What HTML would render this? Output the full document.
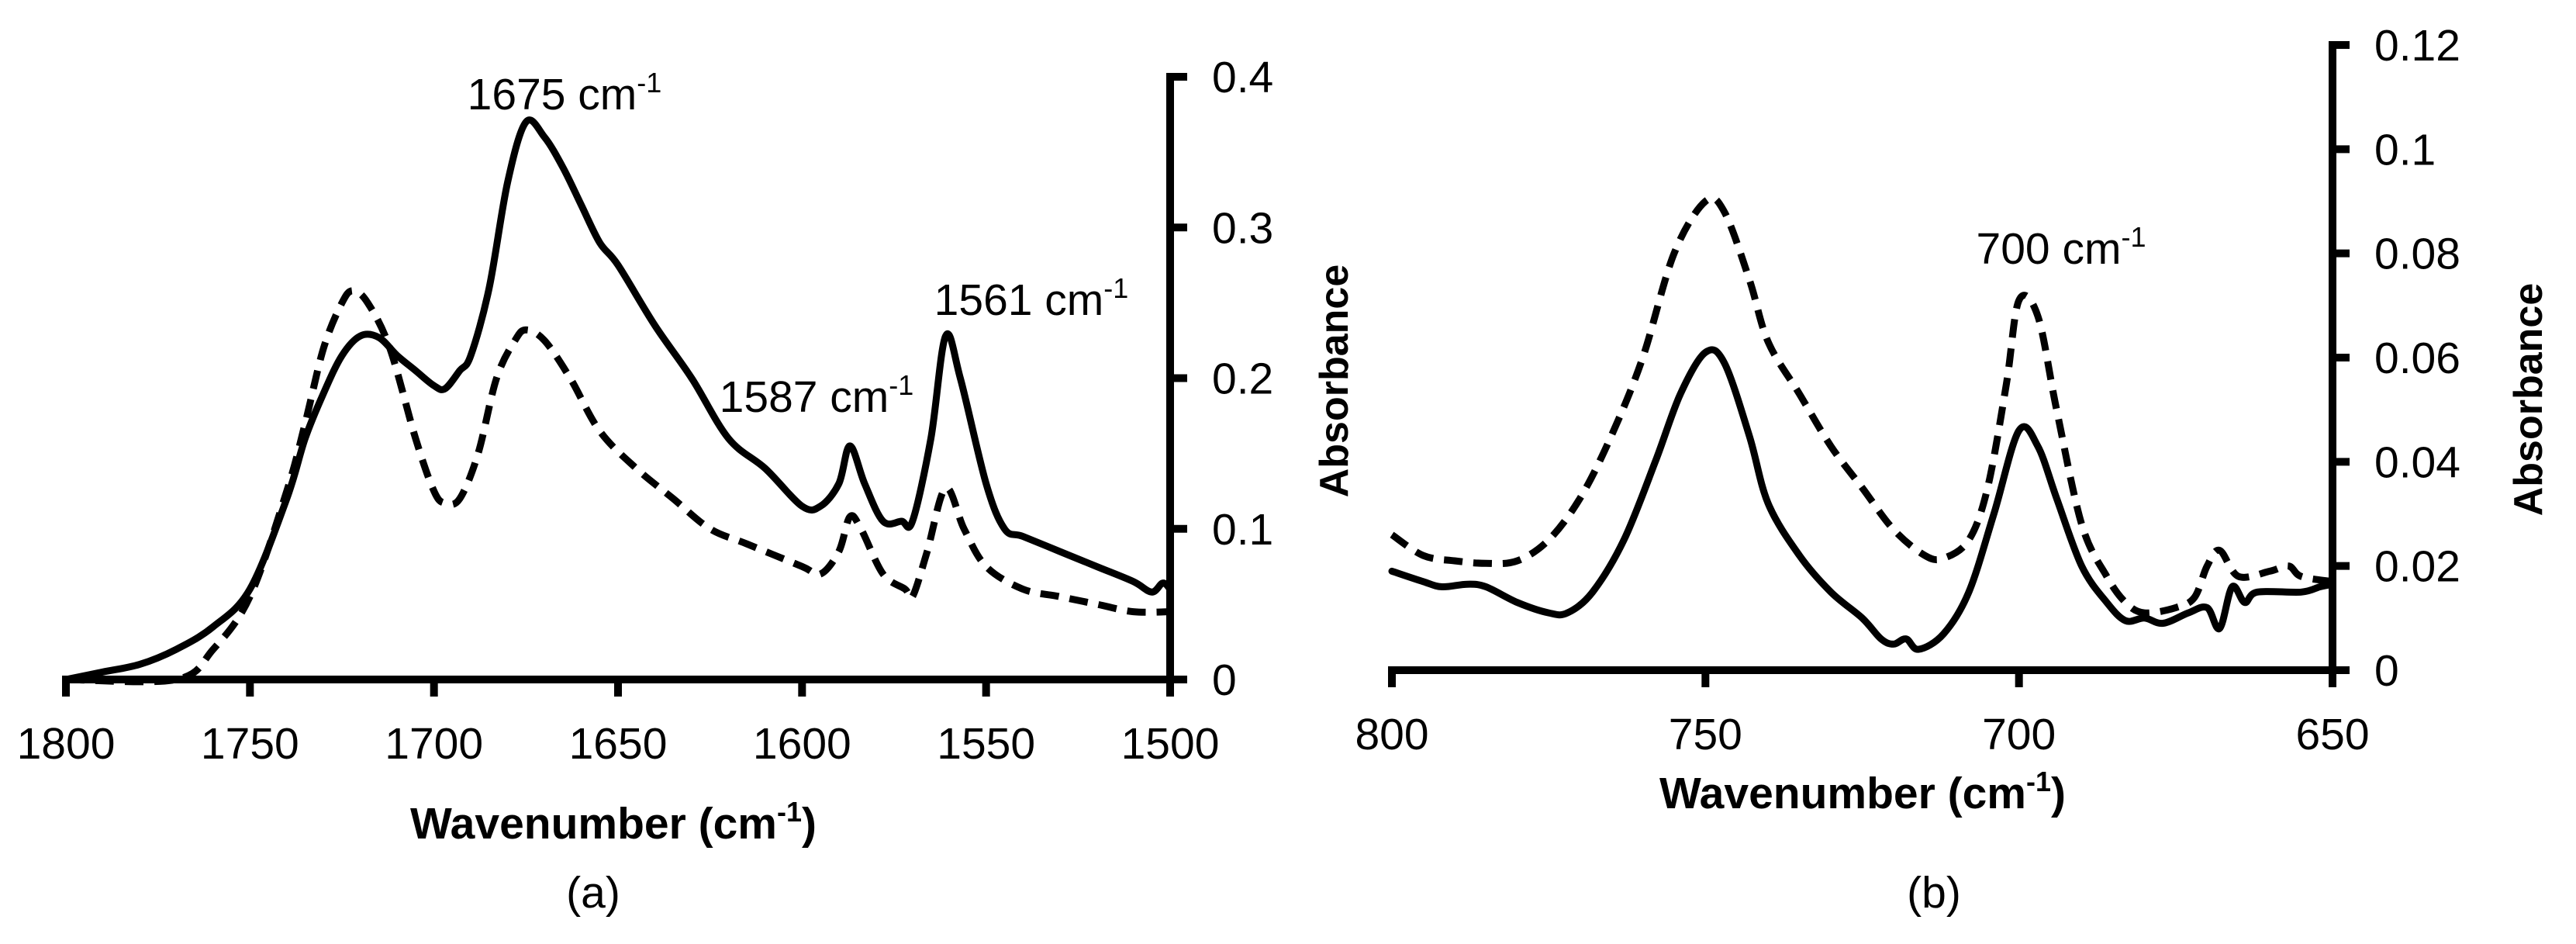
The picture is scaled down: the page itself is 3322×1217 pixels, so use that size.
<!DOCTYPE html>
<html><head><meta charset="utf-8">
<style>
html,body{margin:0;padding:0;background:#fff;}
svg{display:block;}
text{font-family:"Liberation Sans",sans-serif;fill:#000;}
</style></head>
<body>
<svg id="chart" width="3322" height="1217" viewBox="0 0 3322 1217" xmlns="http://www.w3.org/2000/svg">
<g id="pa"></g>
<g id="pb"></g>
</svg>
<script>
// Panel (a) data
const aWaveSolid = [1800,1790,1780,1770,1760,1750,1740,1735,1730,1725,1720,1715,1710,1705,1700,1697,1693,1690,1685,1680,1675,1670,1665,1660,1655,1650,1640,1630,1620,1610,1600,1595,1590,1587,1583,1578,1573,1570,1565,1561,1557,1550,1545,1540,1530,1520,1510,1505,1502,1500];
const aSolid = [0,0.005,0.01,0.02,0.035,0.06,0.12,0.16,0.19,0.215,0.228,0.227,0.215,0.205,0.195,0.193,0.205,0.215,0.26,0.33,0.37,0.36,0.34,0.315,0.29,0.275,0.235,0.2,0.16,0.14,0.115,0.115,0.13,0.155,0.13,0.105,0.105,0.105,0.16,0.228,0.2,0.13,0.1,0.095,0.085,0.075,0.065,0.058,0.064,0.06];
const aWaveDash = [1800,1770,1760,1750,1740,1735,1730,1725,1722,1718,1712,1705,1700,1697,1693,1688,1683,1678,1675,1670,1663,1655,1645,1635,1625,1615,1600,1595,1590,1587,1584,1578,1572,1570,1566,1561,1556,1550,1540,1530,1520,1510,1500];
const aDash = [0,0,0.02,0.055,0.125,0.17,0.22,0.25,0.258,0.25,0.22,0.16,0.125,0.117,0.12,0.15,0.2,0.225,0.232,0.225,0.2,0.165,0.14,0.12,0.1,0.09,0.075,0.07,0.085,0.108,0.1,0.07,0.06,0.055,0.085,0.127,0.1,0.075,0.06,0.055,0.05,0.045,0.045];
const aXTicks = [1800,1750,1700,1650,1600,1550,1500];
const aYTicks = [0,0.1,0.2,0.3,0.4];
// Panel (b) data
const bWaveDash = [800,795,790,785,780,775,770,765,760,755,750,747,743,740,735,730,725,720,715,712,708,705,702,700,697,694,690,686,683,680,675,672,670,668,665,660,657,655,650];
const bDash = [0.026,0.022,0.021,0.0205,0.021,0.025,0.033,0.045,0.06,0.08,0.09,0.088,0.075,0.063,0.053,0.043,0.035,0.027,0.022,0.0215,0.025,0.035,0.055,0.071,0.068,0.05,0.028,0.018,0.013,0.011,0.012,0.014,0.02,0.023,0.018,0.019,0.02,0.018,0.017];
const bWaveSolid = [800,795,792,788,785,780,775,772,768,763,758,754,750,747,743,740,735,730,725,722,720,718,716,712,708,704,700,697,694,690,686,683,680,677,673,670,668,666,664,662,655,652,650];
const bSolid = [0.019,0.017,0.016,0.0165,0.016,0.013,0.011,0.011,0.015,0.025,0.04,0.053,0.061,0.059,0.045,0.032,0.022,0.015,0.01,0.006,0.005,0.006,0.004,0.007,0.015,0.03,0.046,0.043,0.033,0.02,0.013,0.0095,0.01,0.009,0.011,0.012,0.008,0.016,0.013,0.015,0.015,0.016,0.0165];
const bXTicks = [800,750,700,650];
const bYTicks = [0,0.02,0.04,0.06,0.08,0.1,0.12];
const bYLabels = ["0","0.02","0.04","0.06","0.08","0.1","0.12"];

const NS = "http://www.w3.org/2000/svg";
function mk(parent, tag, attrs){ const e=document.createElementNS(NS,tag); for(const k in attrs) e.setAttribute(k,attrs[k]); parent.appendChild(e); return e; }
function scaleLin(d0,d1,r0,r1){ return v => r0 + (v-d0)/(d1-d0)*(r1-r0); }

const ax = scaleLin(1800,1500,85,1509);
const ay = scaleLin(0,0.4,876,99);
const bx = scaleLin(800,650,1795,3008);
const by = scaleLin(0,0.12,864,58);

function pathFrom(xs, ys, sx, sy){
  const p = xs.map((w,i)=>[sx(w), sy(ys[i])]);
  let d = 'M'+p[0][0].toFixed(1)+','+p[0][1].toFixed(1);
  for(let i=0;i<p.length-1;i++){
    const p0=p[Math.max(0,i-1)], p1=p[i], p2=p[i+1], p3=p[Math.min(p.length-1,i+2)];
    const c1x=p1[0]+(p2[0]-p0[0])/6, c1y=p1[1]+(p2[1]-p0[1])/6;
    const c2x=p2[0]-(p3[0]-p1[0])/6, c2y=p2[1]-(p3[1]-p1[1])/6;
    d+=' C'+c1x.toFixed(1)+','+c1y.toFixed(1)+' '+c2x.toFixed(1)+','+c2y.toFixed(1)+' '+p2[0].toFixed(1)+','+p2[1].toFixed(1);
  }
  return d;
}

function drawPanel(g, sx, sy, xt, yt, ylab, x0, yAxisX, xAxisY, yTop, series){
  series.forEach(s=>{
    const p = mk(g,'path',{d:pathFrom(s.x,s.y,sx,sy),fill:'none',stroke:'#000','stroke-width':9,'stroke-linejoin':'round','stroke-linecap':s.dash?'butt':'round'});
    if(s.dash) p.setAttribute('stroke-dasharray',s.dash);
    
    
  });
  const xa = mk(g,'line',{x1:sx(x0)-5,y1:xAxisY,x2:yAxisX,y2:xAxisY,stroke:'#000','stroke-width':10});
  
  
  const ya = mk(g,'line',{x1:yAxisX,y1:yTop-5,x2:yAxisX,y2:xAxisY+22,stroke:'#000','stroke-width':10});
  
  
  xt.forEach(v=>{
    const t = mk(g,'line',{x1:sx(v),y1:xAxisY,x2:sx(v),y2:xAxisY+22,stroke:'#000','stroke-width':10});
    
    
    const l = mk(g,'text',{x:sx(v),y:xAxisY+102,'font-size':57,'text-anchor':'middle'});
    l.textContent = v;
    
    
  });
  yt.forEach((v,i)=>{
    const t = mk(g,'line',{x1:yAxisX,y1:sy(v),x2:yAxisX+22,y2:sy(v),stroke:'#000','stroke-width':10});
    
    
    const l = mk(g,'text',{x:yAxisX+54,y:sy(v)+20,'font-size':57});
    l.textContent = ylab ? ylab[i] : String(v);
    
    
  });
}

const pa = document.getElementById('pa');
drawPanel(pa, ax, ay, aXTicks, aYTicks, null, 1800, 1509, 876, 99, [
  {x:aWaveDash,y:aDash,dash:'24 14',name:'series-dashed-a'},
  {x:aWaveSolid,y:aSolid,dash:null,name:'series-solid-a'}
]);
const pb = document.getElementById('pb');
drawPanel(pb, bx, by, bXTicks, bYTicks, bYLabels, 800, 3008, 864, 58, [
  {x:bWaveDash,y:bDash,dash:'24 14',name:'series-dashed-b'},
  {x:bWaveSolid,y:bSolid,dash:null,name:'series-solid-b'}
]);

const svg = document.getElementById('chart');
function txt(x,y,html,attrs,name){
  const t=document.createElementNS(NS,'text');
  t.setAttribute('x',x); t.setAttribute('y',y);
  for(const k in attrs) t.setAttribute(k,attrs[k]);
  t.innerHTML = html;
  
  
  svg.appendChild(t);
  return t;
}
const sup = '<tspan font-size="36" dy="-22">-1</tspan>';
txt(728,141,'1675 cm'+sup,{'font-size':57,'text-anchor':'middle'},'peak-label-1675');
txt(1330,406,'1561 cm'+sup,{'font-size':57,'text-anchor':'middle'},'peak-label-1561');
txt(1053,531,'1587 cm'+sup,{'font-size':57,'text-anchor':'middle'},'peak-label-1587');
txt(2658,340,'700 cm'+sup,{'font-size':57,'text-anchor':'middle'},'peak-label-700');
txt(791,1081,'Wavenumber (cm'+sup+'<tspan dy="22">)</tspan>',{'font-size':57,'font-weight':'bold','text-anchor':'middle'},'x-axis-title-a');
txt(2402,1042,'Wavenumber (cm'+sup+'<tspan dy="22">)</tspan>',{'font-size':57,'font-weight':'bold','text-anchor':'middle'},'x-axis-title-b');
txt(765,1170,'(a)',{'font-size':57,'text-anchor':'middle'},'panel-label-a');
txt(2494,1170,'(b)',{'font-size':57,'text-anchor':'middle'},'panel-label-b');
txt(0,0,'Absorbance',{'font-size':52,'font-weight':'bold','text-anchor':'middle','transform':'translate(1738,491) rotate(-90)'},'y-axis-title-left');
txt(0,0,'Absorbance',{'font-size':52,'font-weight':'bold','text-anchor':'middle','transform':'translate(3278,515) rotate(-90)'},'y-axis-title-right');
</script>
</body></html>
